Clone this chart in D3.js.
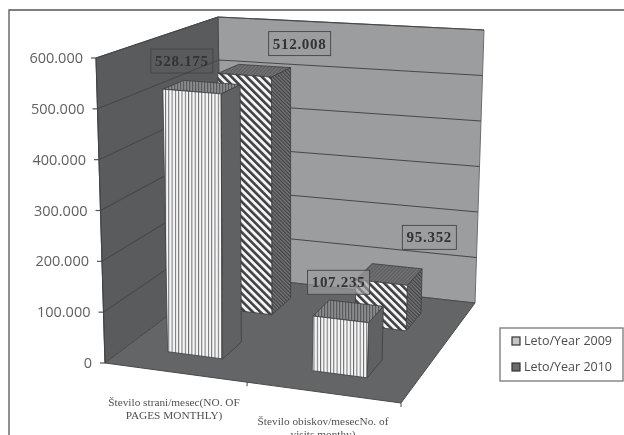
<!DOCTYPE html>
<html>
<head>
<meta charset="utf-8">
<script src="https://d3js.org/d3.v7.min.js"></script>
<style>
html, body { margin: 0; padding: 0; background: #fff; overflow: hidden; }
svg { display: block; filter: blur(0.5px); }
</style>
</head>
<body>
<svg id="svg" width="624" height="435"></svg>
<script>
var categories = [
    ['Število strani/mesec(NO. OF', 'PAGES MONTHLY)'],
    ['Število obiskov/mesecNo. of', 'visits monthy)']
];
var seriesNames = ['Leto/Year 2009', 'Leto/Year 2010'];
var values2009 = [528175, 107235];
var values2010 = [512008, 95352];
var yTicks = [0, 100000, 200000, 300000, 400000, 500000, 600000];

var svg = d3.select('svg');
var defs = svg.append('defs');

// corners of the 3d box
var corners = {
    flb: [105, 363], frb: [401, 403], blb: [222, 275], brb: [475, 303],
    flt: [96, 58], frt: [412, 83], blt: [218, 17], brt: [484, 30]
};

var uScale = d3.scaleBand().domain([0, 1]).range([-0.015, 0.99]).paddingInner(0.62).paddingOuter(0.31);
var vScale = d3.scaleBand().domain([0, 1]).range([0.04, 1]).paddingInner(0.62).paddingOuter(0.31);
var hScale = d3.scaleLinear().domain([0, 600000]).range([0, 1]);

var nf = d3.formatLocale({decimal: ',', thousands: '.', grouping: [3], currency: ['', '']}).format(',d');

function mix(a, b, t) {
    return [a[0] + (b[0] - a[0]) * t, a[1] + (b[1] - a[1]) * t];
}

function project(u, v, h) {
    var c = corners;
    var bot = mix(mix(c.flb, c.frb, u), mix(c.blb, c.brb, u), v);
    var top = mix(mix(c.flt, c.frt, u), mix(c.blt, c.brt, u), v);
    return mix(bot, top, h);
}

function poly(g, pts, fill, stroke, sw) {
    return g.append('polygon')
        .attr('points', pts.map(function (p) { return p.join(','); }).join(' '))
        .attr('fill', fill)
        .attr('stroke', stroke || 'none')
        .attr('stroke-width', sw || 1)
        .attr('stroke-linejoin', 'round');
}

function stripes(id, size, angle, bg, fg, w) {
    var p = defs.append('pattern')
        .attr('id', id)
        .attr('patternUnits', 'userSpaceOnUse')
        .attr('width', size).attr('height', size)
        .attr('patternTransform', 'rotate(' + angle + ')');
    p.append('rect').attr('width', size).attr('height', size).attr('fill', bg);
    p.append('rect').attr('width', w).attr('height', size).attr('fill', fg);
}

stripes('front2009', 3.3, 0, '#f7f7f7', '#6a6a6c', 1);
stripes('top2009', 3, 0, '#8a8b8d', '#5a5a5c', 1.2);
stripes('front2010', 5.4, -45, '#f5f5f5', '#414143', 2.6);
stripes('side2010', 2.6, -45, '#767678', '#404042', 1.2);
stripes('top2010', 2.6, 45, '#727274', '#5c5c5e', 1.2);

// outer frame of the scan
svg.append('path').attr('d', 'M9,435V10H624').attr('fill', 'none').attr('stroke', '#555').attr('stroke-width', 1.3);

// walls and floor
var box = svg.append('g');
poly(box, [project(0, 1, 0), project(1, 1, 0), project(1, 1, 1), project(0, 1, 1)], '#9c9d9f', '#6e6e70');
poly(box, [project(0, 0, 0), project(0, 1, 0), project(0, 1, 1), project(0, 0, 1)], '#5a5b5d', '#4a4a4c');
poly(box, [project(0, 0, 0), project(1, 0, 0), project(1, 1, 0), project(0, 1, 0)], '#646567', '#4a4a4c');

// gridlines on both walls + ticks on the value axis
yTicks.forEach(function (t) {
    var h = hScale(t);
    var a = project(0, 0, h), b = project(0, 1, h), c = project(1, 1, h);
    if (t > 0) {
        box.append('polyline')
            .attr('points', [a, b, c].map(function (p) { return p.join(','); }).join(' '))
            .attr('fill', 'none').attr('stroke', '#48484a').attr('stroke-width', 1.1);
    }
    box.append('line')
        .attr('x1', a[0] - 5).attr('y1', a[1]).attr('x2', a[0]).attr('y2', a[1])
        .attr('stroke', '#555').attr('stroke-width', 1.2);
    box.append('text')
        .attr('x', a[0] - 13).attr('y', a[1] + 5)
        .attr('text-anchor', 'end')
        .attr('font-family', 'Open Sans')
        .attr('font-size', 14.5)
        .attr('fill', '#606062')
        .text(nf(t));
});

// axis line and category ticks
var ax0 = project(0, 0, 0), ax1 = project(0, 0, 1);
box.append('line').attr('x1', ax0[0]).attr('y1', ax0[1]).attr('x2', ax1[0]).attr('y2', ax1[1])
    .attr('stroke', '#444').attr('stroke-width', 1.1);
[0.48, 1].forEach(function (u) {
    var p = project(u, 0, 0);
    box.append('line').attr('x1', p[0]).attr('y1', p[1]).attr('x2', p[0]).attr('y2', p[1] + 4)
        .attr('stroke', '#444');
});

// bars, back row first
var bars = [];
seriesNames.forEach(function (s, si) {
    var vals = si == 0 ? values2009 : values2010;
    vals.forEach(function (d, ci) {
        bars.push({series: si, cat: ci, value: d});
    });
});
bars.sort(function (a, b) { return b.series - a.series || a.cat - b.cat; });

var barG = svg.append('g');
bars.forEach(function (d) {
    var u0 = uScale(d.cat), u1 = u0 + uScale.bandwidth();
    var v0 = vScale(d.series), v1 = v0 + vScale.bandwidth();
    var h = hScale(d.value);
    var g = barG.append('g');
    var front = d.series == 0 ? 'url(#front2009)' : 'url(#front2010)';
    var side = d.series == 0 ? '#606163' : 'url(#side2010)';
    var top = d.series == 0 ? 'url(#top2009)' : 'url(#top2010)';
    poly(g, [project(u1, v0, 0), project(u1, v1, 0), project(u1, v1, h), project(u1, v0, h)], side, '#3e3e40', 0.8);
    poly(g, [project(u0, v0, h), project(u1, v0, h), project(u1, v1, h), project(u0, v1, h)], top, '#3e3e40', 0.8);
    poly(g, [project(u0, v0, 0), project(u1, v0, 0), project(u1, v0, h), project(u0, v0, h)], front, '#3e3e40', 0.8);
});

// data labels
var labelOffsets = [[[-20, -26], [-10, -29]], [[45, -27], [40, -37]]];
var labelFill = [['none', '#9c9d9f'], ['none', 'none']];
bars.forEach(function (d) {
    var uc = uScale(d.cat) + uScale.bandwidth() / 2;
    var vc = vScale(d.series) + vScale.bandwidth() / 2;
    var p = project(uc, vc, hScale(d.value));
    var off = labelOffsets[d.series][d.cat];
    var x = p[0] + off[0], y = p[1] + off[1];
    var txt = nf(d.value);
    var w = txt.length == 7 ? 62 : 54;
    svg.append('rect')
        .attr('x', x - w / 2).attr('y', y - 12).attr('width', w).attr('height', 24)
        .attr('fill', labelFill[d.series][d.cat])
        .attr('fill-opacity', 0.7)
        .attr('stroke', '#444').attr('stroke-width', 0.9);
    svg.append('text')
        .attr('x', x).attr('y', y + 5)
        .attr('text-anchor', 'middle')
        .attr('font-family', 'Liberation Serif')
        .attr('font-weight', 'bold')
        .attr('font-size', 15)
        .attr('letter-spacing', 0.7)
        .attr('fill', '#333335')
        .text(txt);
});

// category labels
var catPos = [[174, 406], [323, 425]];
categories.forEach(function (lines, i) {
    lines.forEach(function (line, j) {
        svg.append('text')
            .attr('x', catPos[i][0]).attr('y', catPos[i][1] + j * 13)
            .attr('text-anchor', 'middle')
            .attr('font-family', 'Liberation Serif')
            .attr('font-size', 11.3)
            .attr('fill', '#505052')
            .text(line);
    });
});

// legend
var legend = svg.append('g');
legend.append('rect').attr('x', 500).attr('y', 328).attr('width', 123).attr('height', 53)
    .attr('fill', '#fff').attr('stroke', '#808082').attr('stroke-width', 1.4);
seriesNames.forEach(function (s, i) {
    var y = i == 0 ? 337 : 363;
    legend.append('rect').attr('x', 512).attr('y', y).attr('width', 8).attr('height', 8)
        .attr('fill', i == 0 ? '#c5c5c7' : '#6a6a6c').attr('stroke', '#333').attr('stroke-width', 1.2);
    legend.append('text').attr('x', 524).attr('y', y + 8)
        .attr('font-family', 'Open Sans').attr('font-size', 12.5)
        .attr('fill', '#4c4c4e')
        .text(s);
});
</script>
</body>
</html>
